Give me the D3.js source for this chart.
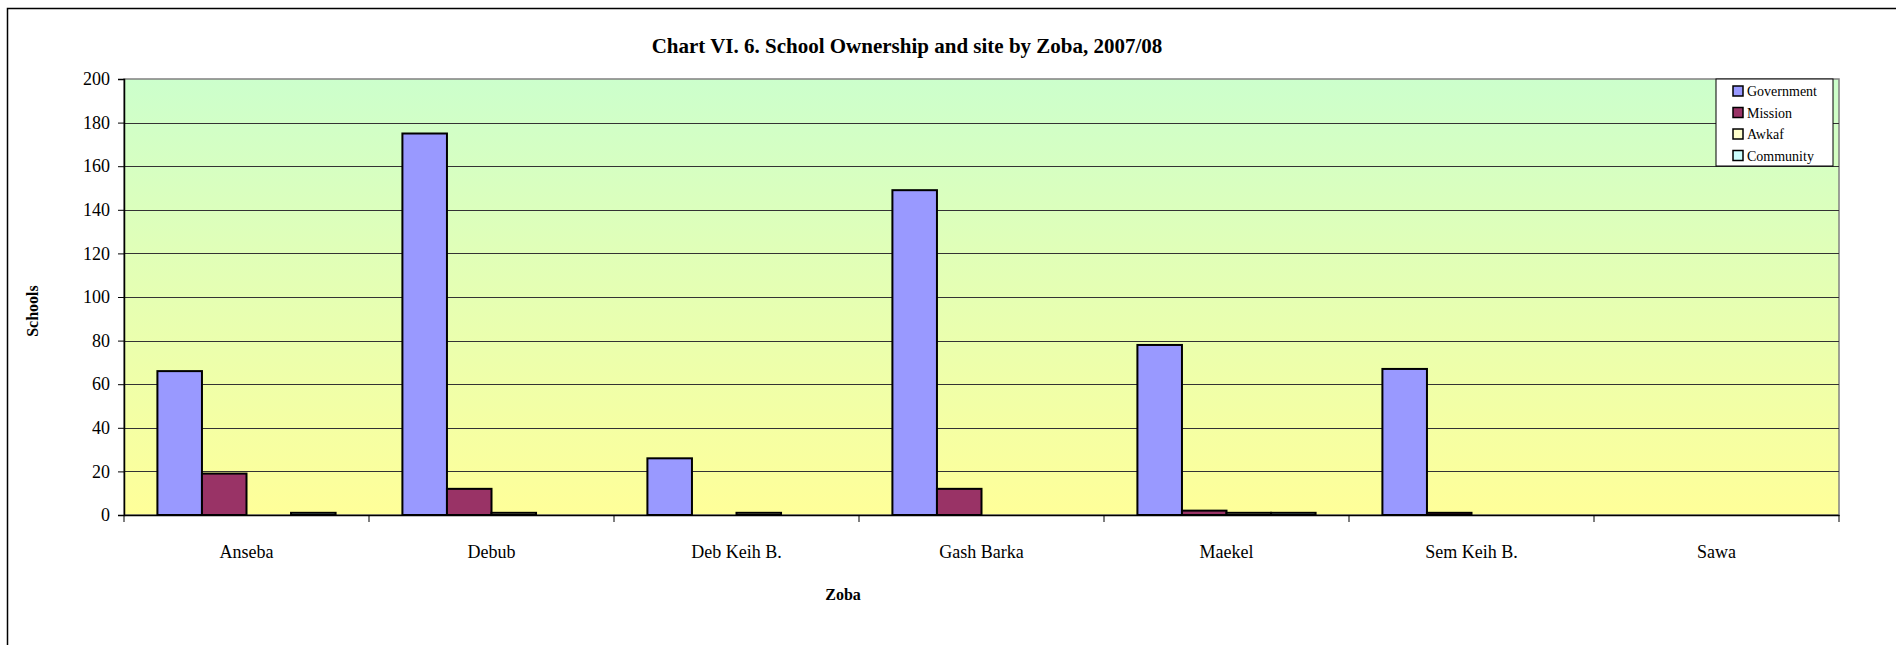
<!DOCTYPE html>
<html>
<head>
<meta charset="utf-8">
<script src="https://cdn.jsdelivr.net/npm/d3@7"></script>
<style>
  body { margin: 0; background: #fff; }
  svg { display: block; font-family: "Liberation Serif", "Times New Roman", serif; }
</style>
</head>
<body>
<svg id="chart" width="1896" height="645"></svg>
<script>
const categories = ["Anseba", "Debub", "Deb Keih B.", "Gash Barka", "Maekel", "Sem Keih B.", "Sawa"];
const seriesNames = ["Government", "Mission", "Awkaf", "Community"];
const government = [66, 175, 26, 149, 78, 67, 0];
const mission = [19, 12, 0, 12, 2, 1, 0];
const awkaf = [0, 1, 1, 0, 1, 0, 0];
const community = [1, 0, 0, 0, 1, 0, 0];
const yTicks = [0, 20, 40, 60, 80, 100, 120, 140, 160, 180, 200];

const colors = ["#9999ff", "#993366", "#ffffcc", "#ccffff"];
const values = [government, mission, awkaf, community];

const svg = d3.select("#chart");
const plot = { left: 124, right: 1839, top: 79, bottom: 515 };

// outer chart frame (only top and left edges are visible)
svg.append("path")
  .attr("d", "M7.5,645 L7.5,8.5 L1896,8.5")
  .attr("fill", "none").attr("stroke", "#000").attr("stroke-width", 1.5);

const defs = svg.append("defs");
const grad = defs.append("linearGradient").attr("id", "bg")
  .attr("x1", 0).attr("y1", 0).attr("x2", 0).attr("y2", 1);
grad.append("stop").attr("offset", 0).attr("stop-color", "#ccffcc");
grad.append("stop").attr("offset", 1).attr("stop-color", "#ffff99");

const x = d3.scaleBand().domain(categories).range([plot.left, plot.right]);
const xs = d3.scaleBand().domain(seriesNames).range([0, x.bandwidth()])
  .paddingInner(0).paddingOuter(0.75);
const y = d3.scaleLinear().domain([0, 200]).range([plot.bottom, plot.top]);

svg.append("rect")
  .attr("x", plot.left).attr("y", plot.top)
  .attr("width", plot.right - plot.left).attr("height", plot.bottom - plot.top)
  .attr("fill", "url(#bg)").attr("stroke", "#808080").attr("stroke-width", 1.5);

// gridlines
svg.append("g").selectAll("line")
  .data(yTicks.filter(d => d > 0 && d < 200))
  .join("line")
  .attr("x1", plot.left).attr("x2", plot.right)
  .attr("y1", d => Math.round(y(d)) + 0.5).attr("y2", d => Math.round(y(d)) + 0.5)
  .attr("stroke", "#333").attr("stroke-width", 1);

// bars
const rows = [];
categories.forEach((c, i) => {
  seriesNames.forEach((s, j) => {
    if (values[j][i] > 0) rows.push({ cat: c, series: s, value: values[j][i], color: colors[j] });
  });
});
svg.append("g").selectAll("rect")
  .data(rows)
  .join("rect")
  .attr("x", d => x(d.cat) + xs(d.series))
  .attr("y", d => y(d.value))
  .attr("width", xs.bandwidth())
  .attr("height", d => y(0) - y(d.value))
  .attr("fill", d => d.color)
  .attr("stroke", "#000").attr("stroke-width", 2);

// y axis
const yAxis = svg.append("g")
  .attr("transform", `translate(${plot.left},0)`)
  .call(d3.axisLeft(y).tickValues(yTicks).tickSize(6).tickPadding(8));
yAxis.select(".domain").attr("stroke", "#000").attr("stroke-width", 1.5);
yAxis.selectAll(".tick line").attr("stroke", "#000");
yAxis.selectAll("text").attr("font-size", 18).attr("fill", "#000")
  .attr("font-family", "Liberation Serif, serif");

// x axis
const xAxis = svg.append("g")
  .attr("transform", `translate(0,${plot.bottom})`)
  .call(d3.axisBottom(x).tickSize(0).tickPadding(30));
xAxis.select(".domain").attr("stroke", "#000").attr("stroke-width", 1.5);
xAxis.selectAll("text").attr("font-size", 18).attr("fill", "#000")
  .attr("font-family", "Liberation Serif, serif");
const bounds = categories.map(c => x(c)).concat([plot.right]);
xAxis.selectAll(".bound")
  .data(bounds)
  .join("line")
  .attr("class", "bound")
  .attr("x1", d => d).attr("x2", d => d)
  .attr("y1", 0).attr("y2", 7)
  .attr("stroke", "#000");

// titles
svg.append("text")
  .attr("x", 907).attr("y", 53)
  .attr("text-anchor", "middle").attr("font-weight", "bold").attr("font-size", 21)
  .text("Chart VI. 6. School Ownership and site by Zoba, 2007/08");
svg.append("text")
  .attr("x", 843).attr("y", 600)
  .attr("text-anchor", "middle").attr("font-weight", "bold").attr("font-size", 16)
  .text("Zoba");
svg.append("text")
  .attr("transform", "translate(38,311) rotate(-90)")
  .attr("text-anchor", "middle").attr("font-weight", "bold").attr("font-size", 16)
  .text("Schools");

// legend
const legend = svg.append("g").attr("transform", "translate(1716,79)");
legend.append("rect")
  .attr("width", 117).attr("height", 87)
  .attr("fill", "#fff").attr("stroke", "#000").attr("stroke-width", 1);
const items = legend.selectAll(".item")
  .data(seriesNames)
  .join("g")
  .attr("class", "item")
  .attr("transform", (d, i) => `translate(0,${12 + i * 21.5})`);
items.append("rect")
  .attr("x", 17).attr("y", -5).attr("width", 10).attr("height", 10)
  .attr("fill", (d, i) => colors[i]).attr("stroke", "#000").attr("stroke-width", 1.5);
items.append("text")
  .attr("x", 31).attr("y", 5)
  .attr("font-size", 14)
  .text(d => d);
</script>
</body>
</html>
